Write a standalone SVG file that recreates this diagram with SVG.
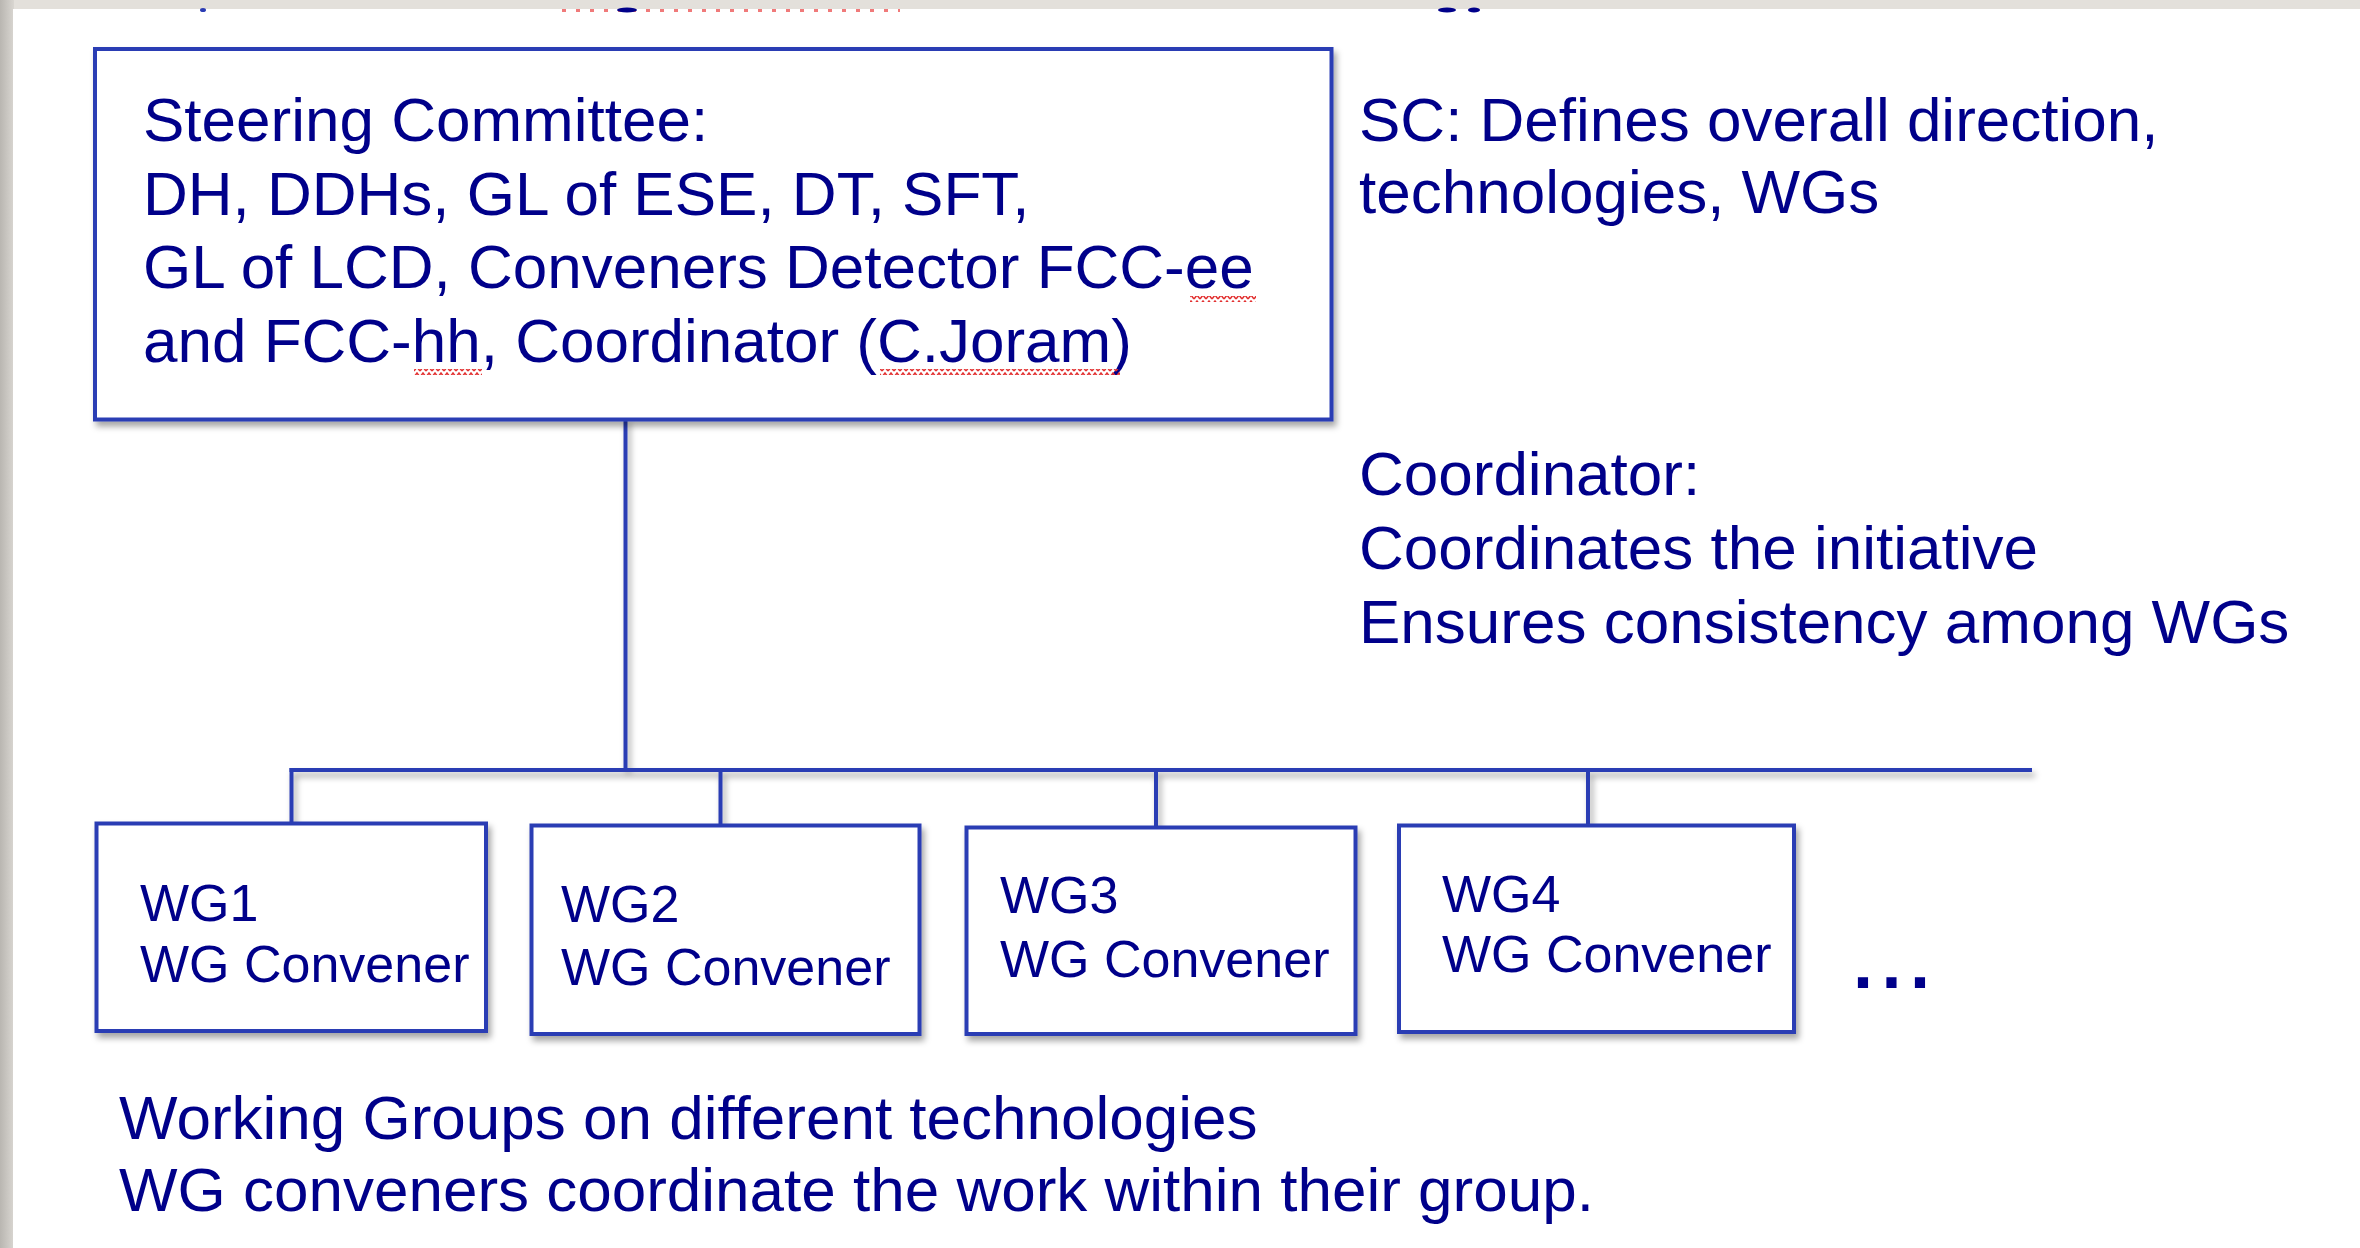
<svg xmlns="http://www.w3.org/2000/svg" width="2360" height="1248" viewBox="0 0 2360 1248">
  <defs>
    <linearGradient id="edgeL" x1="0" y1="0" x2="1" y2="0">
      <stop offset="0" stop-color="#b9b6b1"/>
      <stop offset="1" stop-color="#d9d6d1"/>
    </linearGradient>
    <filter id="shadow" x="-5%" y="-5%" width="115%" height="125%">
      <feDropShadow dx="3" dy="5" stdDeviation="3" flood-color="#000" flood-opacity="0.35"/>
    </filter>
    <pattern id="squig" x="0" y="0" width="6" height="6" patternUnits="userSpaceOnUse">
      <path d="M0 5 L3 1 L6 5" fill="none" stroke="#e23030" stroke-width="1.5"/>
    </pattern>
  </defs>
  <style>
    .box { fill: #ffffff; stroke: #2b3cb4; stroke-width: 4; filter: url(#shadow); }
    .conn { fill: none; stroke: #2b3cb4; stroke-width: 4; stroke-linecap: square; }
    .t { font-family: "Liberation Sans", Arial, Helvetica, sans-serif; fill: #00008a; }
    .big { font-size: 62px; }
    .wg { font-size: 52px; }
    .sq { fill: url(#squig); }
  </style>

  <!-- background / slide edge -->
  <rect x="0" y="0" width="2360" height="1248" fill="#e3e0db"/>
  <rect x="0" y="0" width="14" height="1248" fill="url(#edgeL)"/>
  <rect x="13" y="9" width="2347" height="1239" fill="#ffffff"/>

  <!-- cut-off remnants of text above -->
  <g id="remnants">
    <line x1="562" y1="10.5" x2="900" y2="10.5" stroke="#f07a7a" stroke-width="3" stroke-dasharray="4 10"/>
    <ellipse cx="203" cy="10" rx="3" ry="2" fill="#2b3cb4"/>
    <ellipse cx="627" cy="10" rx="10" ry="2.5" fill="#00008a"/>
    <ellipse cx="1447" cy="10" rx="9" ry="2.5" fill="#00008a"/>
    <ellipse cx="1474" cy="10" rx="6" ry="2.5" fill="#00008a"/>
  </g>

  <!-- connectors -->
  <g id="connectors" filter="url(#shadow)">
    <path class="conn" d="M625.5 420 V770"/>
    <path class="conn" d="M291.5 770 H2030"/>
    <path class="conn" d="M291.5 770 V823"/>
    <path class="conn" d="M720.5 770 V825"/>
    <path class="conn" d="M1156 770 V827"/>
    <path class="conn" d="M1588 770 V825"/>
  </g>

  <!-- Steering Committee -->
  <g id="sc">
    <rect class="box" x="95" y="49" width="1236.5" height="370.5"/>
    <text class="t big" x="143" y="141">Steering Committee:</text>
    <text class="t big" x="143" y="214.5">DH, DDHs, GL of ESE, DT, SFT,</text>
    <text class="t big" x="143" y="288">GL of LCD, Conveners Detector FCC-ee</text>
    <text class="t big" x="143" y="361.5">and FCC-hh, Coordinator (C.Joram)</text>
    <rect class="sq" x="1190" y="296" width="66" height="6"/>
    <rect class="sq" x="414" y="369" width="68" height="6"/>
    <rect class="sq" x="880" y="369" width="240" height="6"/>
  </g>

  <!-- side notes -->
  <g id="sc-note">
    <text class="t big" x="1359" y="141">SC: Defines overall direction,</text>
    <text class="t big" x="1359" y="213">technologies, WGs</text>
  </g>
  <g id="coord-note">
    <text class="t big" x="1359" y="495">Coordinator:</text>
    <text class="t big" x="1359" y="569">Coordinates the initiative</text>
    <text class="t big" x="1359" y="643">Ensures consistency among WGs</text>
  </g>

  <!-- Working groups -->
  <g id="wg1">
    <rect class="box" x="96.5" y="823.5" width="389.5" height="207.5"/>
    <text class="t wg" x="140" y="921">WG1</text>
    <text class="t wg" x="140" y="982">WG Convener</text>
  </g>
  <g id="wg2">
    <rect class="box" x="531.5" y="825.5" width="388" height="208.5"/>
    <text class="t wg" x="561" y="922">WG2</text>
    <text class="t wg" x="561" y="985">WG Convener</text>
  </g>
  <g id="wg3">
    <rect class="box" x="966.5" y="827.5" width="389" height="206.5"/>
    <text class="t wg" x="1000" y="913">WG3</text>
    <text class="t wg" x="1000" y="977">WG Convener</text>
  </g>
  <g id="wg4">
    <rect class="box" x="1399" y="825.5" width="395" height="206.5"/>
    <text class="t wg" x="1442" y="912">WG4</text>
    <text class="t wg" x="1442" y="972">WG Convener</text>
  </g>
  <g id="more">
    <text class="t" x="1853" y="988" font-size="72" font-weight="bold" letter-spacing="8.5">...</text>
  </g>

  <!-- bottom note -->
  <g id="wg-note">
    <text class="t big" x="119" y="1139">Working Groups on different technologies</text>
    <text class="t big" x="119" y="1211">WG conveners coordinate the work within their group.</text>
  </g>
</svg>
